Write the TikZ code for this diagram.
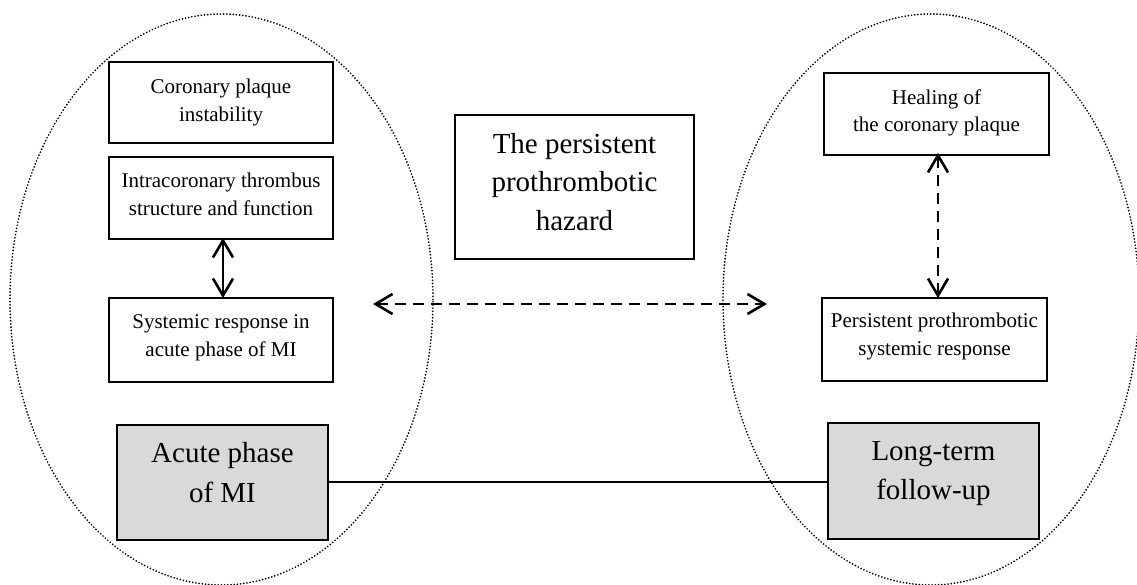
\documentclass[tikz,border=0pt]{standalone}
\usepackage{fontspec}
\setmainfont{Liberation Serif}
\usetikzlibrary{arrows.meta}
\definecolor{boxgrey}{RGB}{217,217,217}
\tikzset{
  smallbox/.style={draw, line width=1.8pt, align=center, inner sep=2pt,
    font=\fontsize{21}{28}\selectfont},
  bigbox/.style={draw, line width=1.8pt, align=center, inner sep=2pt,
    font=\fontsize{29}{39}\selectfont},
  greybox/.style={bigbox, fill=boxgrey, line width=1.6pt},
  zone/.style={line width=1.9pt, line cap=round, dash pattern=on 0pt off 3.2pt},
  twoway/.style={line width=2.9pt, {Straight Barb[length=17pt,width=20pt,line width=2.6pt]}-{Straight Barb[length=17pt,width=20pt,line width=2.6pt]}},
  dashtwoway/.style={twoway, dash pattern=on 11pt off 7pt},
  link/.style={line width=1.7pt}
}
\begin{document}
\begin{tikzpicture}[x=1pt,y=-1pt]
\useasboundingbox[fill=white] (0,0) rectangle (1137,585);
% zones
\draw[zone] (221.5,299.5) ellipse [x radius=211.5pt, y radius=285.5pt];
\draw[zone] (931,299.5) ellipse [x radius=208pt, y radius=285.5pt];
% left column
\node[smallbox, minimum width=224pt, minimum height=81pt, text depth=5.3pt] (coronary) at (221,102.5) {Coronary plaque\\instability};
\node[smallbox, minimum width=224pt, minimum height=82pt, text depth=8.3pt] (intra) at (221,198) {Intracoronary thrombus\\structure and function};
\node[smallbox, minimum width=224pt, minimum height=84pt, text depth=8pt] (systemic) at (221,340) {Systemic response in\\acute phase of MI};
\node[greybox, minimum width=211pt, minimum height=115pt, text depth=19.8pt] (acute) at (222.5,482.5) {Acute phase\\[1pt]of MI};
% middle
\node[bigbox, line width=1.6pt, minimum width=239pt, minimum height=144pt, text depth=10.8pt, font=\fontsize{29}{38.5}\selectfont] (hazard) at (574.5,187) {The persistent\\prothrombotic\\hazard};
% right column
\node[smallbox, minimum width=225pt, minimum height=82pt, text depth=7.3pt, font=\fontsize{21}{27}\selectfont] (healing) at (936.5,114) {Healing of\\the coronary plaque};
\node[smallbox, minimum width=225pt, minimum height=83pt, text depth=9.9pt] (persistent) at (934.5,339.5) {Persistent prothrombotic\\systemic response};
\node[greybox, minimum width=211pt, minimum height=116pt, text depth=20.8pt] (longterm) at (933.5,481) {Long-term\\follow-up};
% connectors
\draw[twoway] ([xshift=2pt,yshift=2pt]intra.south) -- ([xshift=2pt,yshift=-1pt]intra.south |- systemic.north);
\draw[dashtwoway] ([xshift=1.5pt,yshift=3pt]healing.south) -- ([xshift=1.5pt,yshift=-1pt]healing.south |- persistent.north);
\coordinate (hl) at (373,304);
\coordinate (hr) at (767,304);
\draw[dashtwoway] (hl) -- (hr);
\draw[link] ([yshift=0.5pt]acute.east) -- ([yshift=0.5pt]acute.east -| longterm.west);
\end{tikzpicture}
\end{document}
